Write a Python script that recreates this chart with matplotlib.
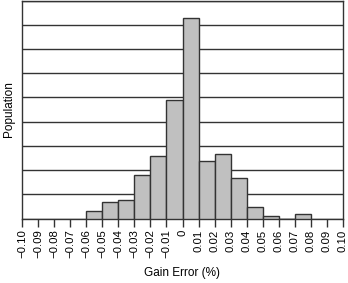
import matplotlib
matplotlib.use("Agg")
import matplotlib.pyplot as plt
import numpy as np

plt.rcParams['font.family'] = ['Liberation Sans', 'DejaVu Sans']

bin_left = [-0.06, -0.05, -0.04, -0.03, -0.02, -0.01, 0.00, 0.01, 0.02, 0.03, 0.04, 0.05, 0.06, 0.07]
population = [0.30, 0.70, 0.78, 1.81, 2.60, 4.90, 8.28, 2.38, 2.68, 1.69, 0.48, 0.10, 0.0, 0.18]
tick_values = [round(-0.10 + 0.01 * i, 2) for i in range(21)]
tick_labels = ["\u22120.10", "\u22120.09", "\u22120.08", "\u22120.07", "\u22120.06", "\u22120.05",
               "\u22120.04", "\u22120.03", "\u22120.02", "\u22120.01", "0", "0.01", "0.02", "0.03",
               "0.04", "0.05", "0.06", "0.07", "0.08", "0.09", "0.10"]

fig = plt.figure(figsize=(3.48, 2.83), dpi=100)
ax = fig.add_axes([22 / 348, 1 - 218.5 / 283, 321 / 348, 218 / 283])

ax.set_axisbelow(True)
ax.grid(axis='y', color='#333333', linewidth=1.0)
ax.bar(bin_left, population, width=0.01, align='edge', color='#c0c0c0',
       edgecolor='#333333', linewidth=1.0, zorder=3)

ax.set_xlim(-0.10, 0.10)
ax.set_ylim(0, 9)
ax.set_yticks(np.arange(0, 10, 1))
ax.tick_params(axis='y', length=0, labelleft=False)
ax.set_xticks(tick_values)
ax.set_xticklabels(tick_labels, rotation=90, fontsize=8.2)
ax.tick_params(axis='x', direction='out', length=6, width=1, color='#333333', pad=2)
for s in ax.spines.values():
    s.set_color('#333333')
    s.set_linewidth(1.0)

ax.set_xlabel("Gain Error (%)", fontsize=8.5, labelpad=6)
ax.set_ylabel("Population", fontsize=8.5, labelpad=5)

fig.savefig("out.png", dpi=100)
